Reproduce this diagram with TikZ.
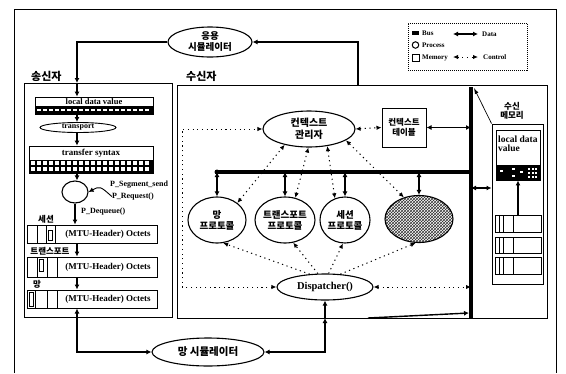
\documentclass[tikz,border=0pt]{standalone}
\usepackage{fontspec}
\setmainfont{Liberation Serif}
\newfontfamily\kr{Noto Sans CJK KR}
\usetikzlibrary{shapes.geometric,arrows.meta,patterns,fit,calc}
\begin{document}
\begin{tikzpicture}[x=1pt,y=-1pt,
  box/.style={draw,line width=1pt,inner sep=0pt},
  proc/.style={ellipse,draw,line width=1.1pt,inner sep=0pt},
  dat/.style={{Latex[length=5pt,width=5pt]}-{Latex[length=5pt,width=5pt]},line width=1.4pt},
  ctl/.style={{Latex[length=5pt,width=4.5pt]}-{Latex[length=5pt,width=4.5pt]},line width=1pt,dash pattern=on 1.2pt off 3.5pt},
  ctlone/.style={-{Latex[length=5pt,width=4.5pt]},line width=1pt,dash pattern=on 1.2pt off 3.5pt},
  arr/.style={-{Latex[length=5pt,width=5pt]},line width=1.1pt},
  krs/.style={font=\kr\bfseries\fontsize{8.5}{9.5}\selectfont,inner sep=0pt,align=center},
  krm/.style={font=\kr\bfseries\fontsize{9.5}{11}\selectfont,inner sep=0pt,align=center},
  krl/.style={font=\kr\bfseries\fontsize{11}{12}\selectfont,inner sep=0pt},
  lat/.style={font=\bfseries\fontsize{9}{10}\selectfont,inner sep=0pt},
  leg/.style={font=\bfseries\fontsize{7}{8}\selectfont,inner sep=0pt,anchor=west},
  bus/.style={line width=4pt}
]
\useasboundingbox (0,0) rectangle (566,373);
% outer frame
\draw[line width=0.9pt] (14,373) -- (14,9) -- (556,9) -- (556,373);

% legend
\node (legend) [fit={(408,23) (527,70)},inner sep=0pt,draw,line width=1pt,dash pattern=on 1pt off 1pt] {};
\node (lbus) [fill,minimum width=7,minimum height=4,inner sep=0pt] at (415.5,33) {};
\node (lproc) [circle,draw,line width=1pt,minimum size=6.5,inner sep=0pt] at (415.5,45) {};
\node (lmem) [draw,line width=1pt,minimum size=7,inner sep=0pt] at (415.5,58) {};
\node (tbus) [leg] at (422,33) {Bus};
\node (tproc) [leg] at (422,45.5) {Process};
\node (tmem) [leg] at (422,58) {Memory};
\coordinate (lda) at (453,34);
\coordinate (ldb) at (478,34);
\coordinate (lca) at (453,57);
\coordinate (lcb) at (478,57);
\draw[dat,line width=1.1pt] (lda) -- (ldb);
\draw[ctl] (lca) -- (lcb);
\node (tdat) [leg] at (482,34.5) {Data};
\node (tctl) [leg] at (483,57.5) {Control};

% application simulator
\node (app) [proc,minimum width=84,minimum height=30,krm] at (210,42) {응용\\시뮬레이터};

% ---------------- sender
\node (snd) [box,fit={(24,83) (172,317)}] {};
\node (sndl) [krl,anchor=south west] at (31,82) {송신자};
\coordinate (ax) at (77,0);
\coordinate (sa) at (77,83);

\node (ld) [box,line width=0.8pt,fit={(35,97) (153,114)}] {};
\fill (35,106) rectangle (153,114);
\foreach \x in {37,43,...,149} \fill[white] (\x,108.7) rectangle ++(4,2.4);
\node (ldt) [lat,font=\bfseries\fontsize{8.5}{9}\selectfont] at (94,101.6) {local data value};

\node (tp) [ellipse,draw,line width=0.9pt,minimum width=76,minimum height=10,inner sep=0pt] at (78,127.5) {};
\node (tpt) [lat,font=\bfseries\fontsize{8}{9}\selectfont] at (tp) {transport};

\node (ts) [box,line width=0.8pt,fit={(29,146) (153,173)}] {};
\fill (29,160) rectangle (153,173);
\foreach \x in {31,37,...,149} {\fill[white] (\x,161.4) rectangle ++(4.2,4); \fill[white] (\x,167.4) rectangle ++(4.2,4);}
\node (tst) [lat] at (91,153) {transfer syntax};

\node (pc) [ellipse,draw,line width=1.1pt,minimum width=26,minimum height=22,inner sep=0pt] at (75,192) {};
\node (pseg) [lat,font=\bfseries\fontsize{8}{9}\selectfont,anchor=west] at (110,185) {P\_Segment\_send};
\node (preq) [lat,font=\bfseries\fontsize{8}{9}\selectfont,anchor=east] at (154,196.5) {P\_Request()};
\node (pdeq) [lat,font=\bfseries\fontsize{8}{9}\selectfont,anchor=west] at (81,212) {P\_Dequeue()};

\node (o1) [box,fit={(27,225) (157,243)}] {};
\node (o2) [box,fit={(27,257) (157,277)}] {};
\node (o3) [box,fit={(27,290) (157,308)}] {};
\draw[line width=0.8pt] (37,225) -- (37,243) (46,225) -- (46,243) (55,225) -- (55,243);
\draw[line width=0.8pt] (37,257) -- (37,277) (47,257) -- (47,277) (57,257) -- (57,277);
\draw[line width=0.8pt] (35,290) -- (35,308) (47,290) -- (47,308) (57,290) -- (57,308);
\draw[line width=0.6pt] (48,230) rectangle (52.5,240);
\draw[line width=0.6pt] (39,259) rectangle (43.5,271);
\draw[line width=0.6pt] (29.5,292.5) rectangle (33.5,306);
\node (o1t) [lat] at (108,234) {(MTU-Header) Octets};
\node (o2t) [lat] at (108,267) {(MTU-Header) Octets};
\node (o3t) [lat] at (108,299) {(MTU-Header) Octets};
\node (ks) [krs] at (46,219) {세션};
\node (kt) [krs] at (50,251) {트랜스포트};
\node (kn) [krs] at (37,284) {망};

\draw[arr] (app.west) -| (sa);
\draw[arr] (sa) -- (ld.north -| ax);
\draw[arr] (ld.south -| ax) -- (tp.north -| ax);
\draw[arr] (tp.south -| ax) -- (ts.north -| ax);
\draw[arr] (ts.south -| ax) -- (pc.north -| ax);
\draw[arr] (pc.south) -- (o1.north -| pc.south);
\draw[arr,line width=0.9pt] (preq.west) .. controls (100,186) .. (pc.east);
\draw[arr] (o1.south -| ax) -- (o2.north -| ax);
\draw[arr] (o2.south -| ax) -- (o3.north -| ax);

% network simulator
\node (nsim) [proc,minimum width=112,minimum height=28,font=\kr\bfseries\fontsize{10.5}{12}\selectfont] at (208,352) {망 시뮬레이터};
\draw[dat] (o3.south -| ax) |- (nsim.west);

% ---------------- receiver
\node (rcv) [box,fit={(177,85) (547,318)}] {};
\node (rcvl) [krl,anchor=south west] at (186,82) {수신자};
\coordinate (rtop) at (358,85);
\draw[arr] (rtop) |- (app.east);

\coordinate (bh0) at (217,172);
\coordinate (bh1) at (471,172);
\coordinate (bv0) at (471,87);
\coordinate (bv1) at (471,318);
\coordinate (lp) at (182,0);

\node (cm) [proc,minimum width=92,minimum height=36,krm,font=\kr\bfseries\fontsize{10}{11.5}\selectfont] at (309,129) {컨텍스트\\관리자};
\node (ct) [box,minimum width=44,minimum height=39,krs] at (404,127.5) {컨텍스트\\테이블};

\node (p1) [proc,minimum width=58,minimum height=46] at (217,220) {};
\node (p2) [proc,minimum width=60,minimum height=46] at (285,220) {};
\node (p3) [proc,minimum width=50,minimum height=46] at (345,220) {};
\node (p4) [proc,minimum width=68,minimum height=47,pattern=crosshatch,pattern color=black!80] at (419,219) {};
\node (p1t) [krm] at (p1) {망\\프로토콜};
\node (p2t) [krm] at (p2) {트랜스포트\\프로토콜};
\node (p3t) [krm] at (p3) {세션\\프로토콜};

\node (dsp) [proc,minimum width=96,minimum height=26,font=\bfseries\fontsize{10.5}{12}\selectfont] at (325,287) {Dispatcher()};

% memory
\node (mlab) [krs] at (512,111) {수신\\메모리};
\node (mem) [box,fit={(492,124) (543,284)}] {};
\node (ldm) [box,line width=0.9pt,fit={(496,130) (540,180)}] {};
\fill (496,165) rectangle (540,180);
\foreach \x/\y in {500/170,512/168,512/175,520/171} \fill[white] (\x,\y) rectangle ++(2.5,1.5);
\foreach \x in {528,531.5,535} {\fill[white] (\x,168) rectangle ++(2,2); \fill[white] (\x,172) rectangle ++(2,2); \fill[white] (\x,176) rectangle ++(2,2);}
\node (ldmt) [lat,font=\bfseries\fontsize{9.5}{9}\selectfont,anchor=north west,align=left] at (498,136) {local data\\value};
\node (s1) [box,line width=0.9pt,fit={(495,215) (541,232)}] {};
\node (s2) [box,line width=0.9pt,fit={(495,237) (541,253)}] {};
\node (s3) [box,line width=0.9pt,fit={(495,257) (541,274)}] {};
\foreach \a/\b in {215/232,237/253,257/274} \draw[line width=0.8pt] (499.5,\a) -- (499.5,\b) (503.5,\a) -- (503.5,\b) (513,\a) -- (513,\b);
\draw[arr] (s1.north -| ldm.south) -- (ldm.south);

% data connectors
\coordinate (b1) at (p1.north |- bh0);
\coordinate (b2) at (p2.north |- bh0);
\coordinate (b3) at (p3.north |- bh0);
\coordinate (b4) at (p4.north |- bh0);
\draw[dat] (b1) -- (p1.north);
\draw[dat] (b2) -- (p2.north);
\draw[dat] (b3) -- (p3.north);
\draw[dat] (b4) -- (p4.north);
\draw[dat] (ct.east) -- (ct.east -| bv0);
\coordinate (m1) at (471,188);
\draw[dat] (m1) -- (m1 -| mem.west);
\coordinate (btop) at (474,88);
\draw[-{Latex[length=6pt,width=4pt]},line width=0.7pt] (mem.north west) -- (btop);

% control connectors
\draw[ctl] (p1.40) -- (cm.213);
\draw[ctl] (p2.65) -- (cm.268);
\draw[ctl] (p3.115) -- (cm.317);
\draw[ctl] (p4.125) -- (cm.343);
\draw[ctl] (cm.east) -- (ct.west);
\draw[ctlone] (dsp.140) -- (p1.285);
\draw[ctlone] (dsp.118) -- (p2.290);
\draw[ctlone] (dsp.75) -- (p3.265);
\draw[ctlone] (dsp.40) -- (p4.262);
\draw[ctl] (dsp.east) -- (dsp.east -| bv0);
\draw[ctl] (dsp.west) -- (dsp.west -| lp) |- (cm.west);

% bus
\draw[bus] (bh0) -- (bh1);
\draw[bus] (bv0) -- (bv1);
\fill (bh0) circle (2.5);

% network simulator to dispatcher
\coordinate (j) at (325,318);
\coordinate (bs) at (368,318);
\coordinate (bb) at (469,313);
\draw[dat] (nsim.east) -| (j);
\draw[arr] (j) -- (dsp.south);
\draw[arr,line width=1.4pt] (bs) -- (bb);
\end{tikzpicture}
\end{document}
